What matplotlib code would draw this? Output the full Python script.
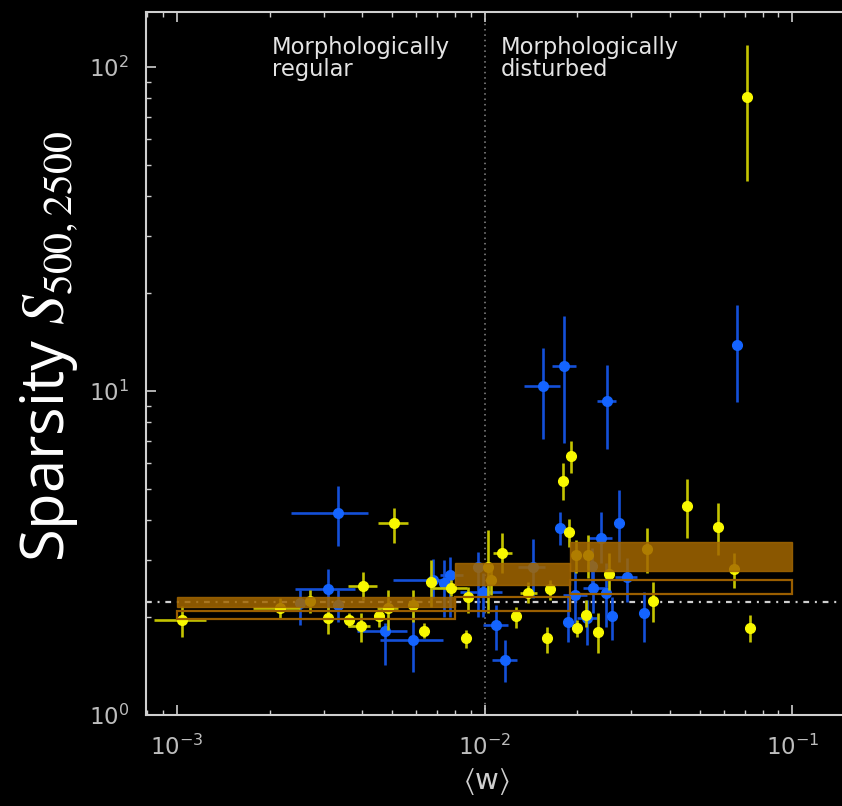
import matplotlib
matplotlib.use("Agg")
import matplotlib.pyplot as plt
import numpy as np

plt.rcParams['mathtext.fontset'] = 'stix'

# clusters with the "yellow" measurement: <w>, its range, sparsity and its range
yel_w = [0.00104, 0.00216, 0.00270, 0.00310, 0.00362, 0.00397, 0.00402, 0.00453, 0.00485, 0.00507,
         0.00585, 0.00635, 0.00669, 0.00777, 0.00869, 0.00883, 0.01026, 0.01048, 0.01138, 0.01263,
         0.01383, 0.0163, 0.01595, 0.01797, 0.01908, 0.01879, 0.01982, 0.02168, 0.01995, 0.02136,
         0.02336, 0.02535, 0.03369, 0.03524, 0.0455, 0.0573, 0.0646, 0.0728, 0.0712]
yel_w_lo = [0.00084, 0.00177, None, None, None, 0.00360, 0.00360, None, 0.00447, 0.00450,
            None, None, None, 0.00674, None, None, None, None, 0.01064, None,
            0.01303, None, None, None, None, None, None, None, None, None,
            None, None, None, None, None, None, None, None, None]
yel_w_hi = [0.00124, 0.00251, None, None, None, 0.00424, 0.00447, None, 0.00523, 0.00564,
            None, None, None, 0.00876, None, None, None, None, 0.01228, None,
            0.01479, None, None, None, None, None, None, None, None, None,
            None, None, None, None, None, None, None, None, None]
yel_s = [1.96, 2.14, 2.25, 1.99, 1.96, 1.88, 2.50, 2.02, 2.14, 3.91,
         2.19, 1.82, 2.57, 2.47, 1.73, 2.31, 2.86, 2.61, 3.16, 2.02,
         2.38, 2.45, 1.73, 5.27, 6.30, 3.67, 3.12, 3.12, 1.86, 2.04,
         1.80, 2.72, 3.25, 2.25, 4.42, 3.80, 2.82, 1.86, 80.7]
yel_s_lo = [1.74, 1.99, 2.06, 1.78, 1.87, 1.68, 2.26, 1.87, 1.83, 3.40,
            1.94, 1.73, 2.15, 2.33, 1.61, 2.06, 2.06, 2.35, 2.74, 1.86,
            2.22, 2.26, 1.55, 4.61, 5.58, 3.30, 2.74, 2.65, 1.74, 1.87,
            1.55, 2.43, 2.74, 1.94, 3.52, 3.12, 2.47, 1.68, 44.4]
yel_s_hi = [2.17, 2.30, 2.43, 2.15, 2.06, 2.06, 2.76, 2.15, 2.43, 4.35,
            2.43, 1.92, 3.01, 2.61, 1.83, 2.48, 3.72, 2.90, 3.64, 2.15,
            2.57, 2.61, 1.87, 5.99, 7.01, 4.03, 3.47, 3.59, 1.96, 2.26,
            2.06, 3.16, 3.78, 2.57, 5.35, 4.51, 3.16, 2.04, 116.8]

# clusters with the "blue" measurement
blu_w = [0.00333, 0.00310, 0.00333, 0.00251, 0.00474, 0.00585, 0.00679, 0.00771, 0.00738, 0.00987,
         0.01089, 0.01164, 0.01436, 0.01547, 0.01811, 0.02497, 0.0661, 0.01758, 0.02732, 0.02388,
         0.02901, 0.03293, 0.02596, 0.02249, 0.02477, 0.02151, 0.01866, 0.01965, 0.00951, 0.02234]
blu_w_lo = [0.00235, 0.00242, None, None, 0.00385, 0.00457, 0.00504, 0.00716, None, 0.00832,
            0.00987, 0.01057, 0.01283, 0.01343, 0.01656, 0.02317, None, None, None, 0.02168,
            0.02651, None, None, 0.02087, None, 0.01995, None, 0.01797, None, None]
blu_w_hi = [0.00418, 0.00379, None, None, 0.00559, 0.00732, 0.00743, 0.00850, None, 0.01138,
            0.01191, 0.01274, 0.01570, 0.01758, 0.01982, 0.02673, None, None, None, 0.02596,
            0.03126, None, None, 0.02460, None, 0.02317, None, 0.02151, None, None]
blu_s = [4.20, 2.45, 2.19, 2.22, 1.82, 1.70, 2.61, 2.70, 2.56, 2.40,
         1.90, 1.48, 2.86, 10.36, 11.94, 9.31, 13.86, 3.78, 3.91, 3.52,
         2.67, 2.06, 2.02, 2.47, 2.38, 1.99, 1.94, 2.35, 2.86, 2.88]
blu_s_lo = [3.32, 2.01, 1.94, 1.90, 1.43, 1.36, 2.30, 2.01, 2.01, 2.01,
            1.59, 1.26, 2.30, 7.11, 6.91, 6.62, 9.25, 3.35, 2.97, 2.94,
            2.23, 1.68, 1.70, 2.06, 1.87, 1.64, 1.68, 1.92, 2.01, 2.43]
blu_s_hi = [5.09, 2.82, 2.43, 2.43, 1.92, 2.06, 3.03, 3.07, 3.01, 2.74,
            2.19, 1.70, 3.49, 13.57, 17.03, 12.03, 18.42, 4.23, 4.95, 4.23,
            3.05, 2.40, 2.31, 2.80, 2.94, 2.26, 2.31, 2.80, 3.18, 3.28]

# binned sparsity in <w>: filled band and open band per bin
bin_lo = [0.001, 0.008, 0.019]
bin_hi = [0.008, 0.019, 0.1]
band_lo = [2.15, 2.52, 2.78]
band_hi = [2.31, 2.94, 3.42]
open_lo = [1.98, 2.09, 2.36]
open_hi = [2.09, 2.31, 2.61]

s_ref = 2.24      # horizontal reference level
w_split = 0.01    # regular / disturbed boundary

fg = '#cfcfcf'


def draw_points(ax, w, w_lo, w_hi, s, s_lo, s_hi, color, ecolor, z):
    w = np.array(w)
    lo = np.array([a if a is not None else b for a, b in zip(w_lo, w)])
    hi = np.array([a if a is not None else b for a, b in zip(w_hi, w)])
    s = np.array(s)
    xerr = [w - lo, hi - w]
    yerr = [s - np.array(s_lo), np.array(s_hi) - s]
    ax.errorbar(w, s, xerr=xerr, yerr=yerr, fmt='o', ms=7, mfc=color, mec=color,
                ecolor=ecolor, elinewidth=1.9, capsize=0, zorder=z)


fig = plt.figure(figsize=(8.42, 8.06), dpi=100, facecolor='black')
ax = fig.add_axes([146 / 842, 91 / 806, 717 / 842, 703 / 806])
ax.set_facecolor('black')
ax.set_xscale('log')
ax.set_yscale('log')
ax.set_xlim(10 ** -3.1007, 10 ** -0.7705)
ax.set_ylim(1, 10 ** 2.1698)

ax.axvline(w_split, color='#8a8a8a', lw=1.1, ls=(0, (1, 2.5)), zorder=1)
ref = ax.axhline(s_ref, color='#cfcfcf', lw=1.6, zorder=1)
ref.set_dashes([2.6, 2.6, 0.9, 2.6])

draw_points(ax, blu_w, blu_w_lo, blu_w_hi, blu_s, blu_s_lo, blu_s_hi, '#1464ff', '#1450d8', 2)
draw_points(ax, yel_w, yel_w_lo, yel_w_hi, yel_s, yel_s_lo, yel_s_hi, '#f8f800', '#c4c400', 3)

widths = np.array(bin_hi) - np.array(bin_lo)
ax.bar(bin_lo, np.array(band_hi) - np.array(band_lo), width=widths, bottom=band_lo,
       align='edge', color='#a36700', alpha=0.85, edgecolor='#a36700', lw=1.0, zorder=4)
ax.bar(bin_lo, np.array(open_hi) - np.array(open_lo), width=widths, bottom=open_lo,
       align='edge', fill=False, edgecolor='#9a5e00', lw=1.6, zorder=4)

ax.text(0.176, 0.966, 'Morphologically\nregular', transform=ax.transAxes, ha='left', va='top',
        color='#e4e4e4', fontsize=16.3, linespacing=0.93)
ax.text(0.495, 0.966, 'Morphologically\ndisturbed', transform=ax.transAxes, ha='left', va='top',
        color='#e4e4e4', fontsize=16.3, linespacing=0.93)

for side in ax.spines.values():
    side.set_color(fg)
    side.set_linewidth(1.5)
ax.tick_params(which='both', direction='in', top=True, right=True, colors=fg, labelsize=16.5)
ax.tick_params(which='major', length=7, width=1.2)
ax.tick_params(which='minor', length=3.5, width=1.0)
ax.tick_params(axis='x', pad=14)
ax.tick_params(axis='y', pad=12)
for lab in ax.get_xticklabels() + ax.get_yticklabels():
    lab.set_color('#bdbdbd')

ax.set_xlabel(r'$\left\langle\mathdefault{w}\right\rangle$', color=fg, fontsize=21)
ax.xaxis.label.set_va('center')
ax.xaxis.set_label_coords((486 - 146) / 717, -0.094)
ax.set_ylabel(r'Sparsity $S_{500,2500}$', color='white', fontsize=43, family='Open Sans')
ax.yaxis.label.set_va('center')
ax.yaxis.set_label_coords(-0.135, 0.524)

fig.savefig('out.png', dpi=100, facecolor='black')
